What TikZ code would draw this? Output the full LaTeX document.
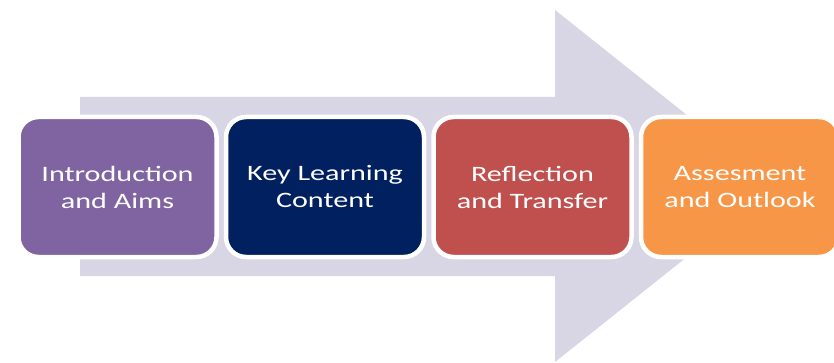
\documentclass[tikz,border=0pt]{standalone}
\usepackage{fontspec}
\newfontfamily\stagefont[FakeStretch=1.37]{Carlito}
\usepackage{tikz}
\usetikzlibrary{positioning, shadows}
\usepackage{xcolor}
\definecolor{arrowgray}{HTML}{D8D5E4}
\definecolor{introcol}{HTML}{8064A2}
\definecolor{keycol}{HTML}{002060}
\definecolor{reflcol}{HTML}{C0504D}
\definecolor{assecol}{HTML}{F79646}

\begin{document}
\begin{tikzpicture}[x=1pt, y=1pt,
  stage/.style={draw=white, line width=4.5pt, rounded corners=20pt,
    minimum width=198pt, minimum height=140pt, align=center,
    text=white, font=\stagefont\fontsize{22}{27}\selectfont,
    drop shadow={opacity=0.3, shadow xshift=0.5pt, shadow yshift=-1.5pt}}]
\useasboundingbox (0,0) rectangle (834,362);
%
\fill[arrowgray] (80,265) -- (555,265) -- (555,352) -- (776,176)
  -- (555,0) -- (555,86) -- (80,86) -- cycle;
%
\node[stage, fill=introcol] (intro) at (117.5,175) {Introduction\\and Aims};
\node[stage, fill=keycol, right=5pt of intro] (key) {Key Learning\\Content};
\node[stage, fill=reflcol, right=5pt of key] (refl) {Reflection\\and Transfer};
\node[stage, fill=assecol, right=5pt of refl] (asse) {Assesment\\and Outlook};
%
\end{tikzpicture}
\end{document}
